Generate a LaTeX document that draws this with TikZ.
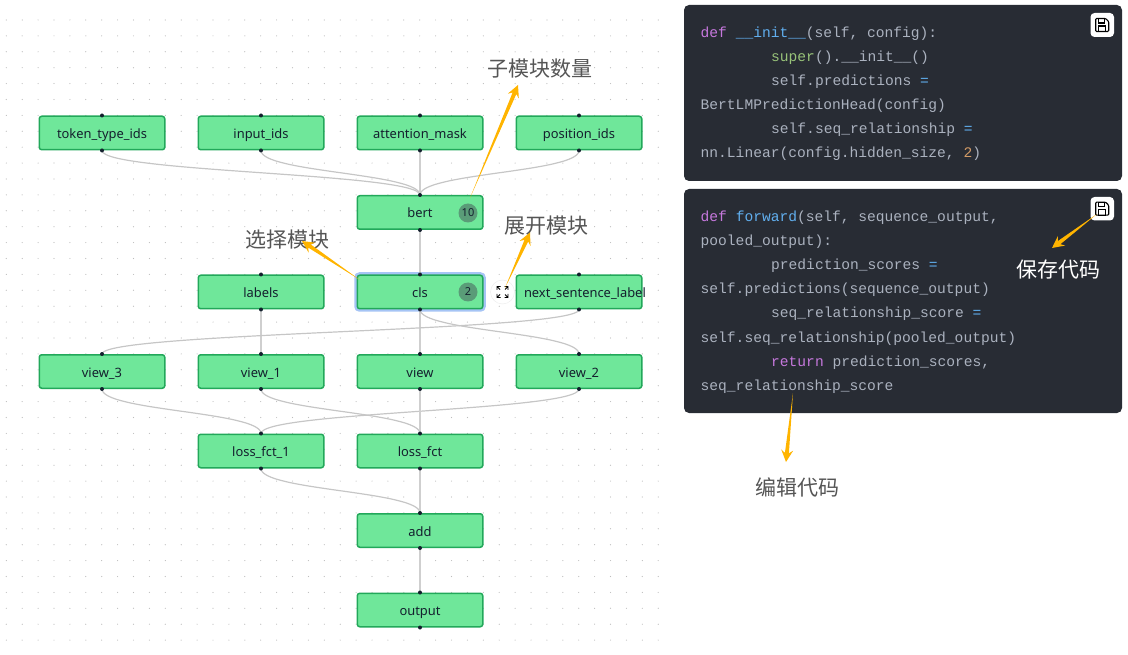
\documentclass[tikz,border=0pt]{standalone}
\usepackage{fontspec}
\setmainfont{Noto Sans}
\setmonofont{Liberation Mono}
\newfontfamily\cjkfont{Noto Sans CJK SC}
\usetikzlibrary{calc}

\definecolor{blockfill}{HTML}{6FE79A}
\definecolor{blockline}{HTML}{22A85A}
\definecolor{blocktext}{HTML}{14202E}
\definecolor{edgegray}{HTML}{C6C6C6}
\definecolor{gridgray}{HTML}{BDBDBD}
\definecolor{haloblue}{HTML}{A6C4F5}
\definecolor{badgegreen}{HTML}{5A9C78}
\definecolor{arrowyellow}{HTML}{FFB400}
\definecolor{notegray}{HTML}{555555}
\definecolor{codebg}{HTML}{282C34}
\definecolor{codetext}{HTML}{ABB2BF}
\definecolor{codekw}{HTML}{C678DD}
\definecolor{codefn}{HTML}{61AFEF}
\definecolor{codebuilt}{HTML}{98C379}
\definecolor{codenum}{HTML}{D19A66}

\newcommand{\kw}[1]{\textcolor{codekw}{#1}}
\newcommand{\fn}[1]{\textcolor{codefn}{#1}}
\newcommand{\yarrow}[2]{%
  \coordinate (hd) at ($(#2)!12pt!(#1)$);
  \coordinate (nk) at ($(#2)!9pt!(#1)$);
  \fill[arrowyellow] (#1) -- ($(nk)!2pt!90:(#2)$) -- ($(hd)!6pt!90:(#2)$) -- (#2)
    -- ($(hd)!6pt!-90:(#2)$) -- ($(nk)!2pt!-90:(#2)$) -- cycle;}

\tikzset{
  block/.style={draw=blockline,fill=blockfill,line width=1.5pt,rounded corners=2.5pt,
    minimum width=125.5pt,minimum height=33.5pt,inner sep=0pt,text=blocktext,
    text height=12pt,text depth=1pt,font=\fontsize{12.9}{15}\selectfont},
  selected/.style={block,preaction={draw=haloblue,line width=6pt}},
  badge/.style={circle,fill=badgegreen,minimum size=19pt,inner sep=0pt,text=blocktext,
    font=\fontsize{11}{13}\selectfont},
  edgeline/.style={draw=edgegray,line width=1.2pt},
  straightline/.style={draw=edgegray!85,line width=1.7pt},
  curved/.style={out=-90,in=90,distance=22pt},
  note/.style={text=notegray,font=\cjkfont\fontsize{21}{24}\selectfont},
  codeline/.style={anchor=base west,inner sep=0pt,text=codetext,
    font=\ttfamily\fontsize{14.6}{24}\selectfont},
  codebox/.style={fill=codebg,rounded corners=5pt},
  savebtn/.style={fill=white,rounded corners=4pt},
  saveicon/.pic={
    \draw[black,line width=1.1pt,rounded corners=1pt] (-6.5,-6.5) -- (3.5,-6.5) -- (6.5,-3.5)
      -- (6.5,6.5) -- (-6.5,6.5) -- cycle;
    \draw[black,line width=1.1pt] (-3.5,-6.5) rectangle (2.5,-2);
    \draw[black,line width=1.1pt] (-3.5,6.5) rectangle (3.5,1);
  },
}

\begin{document}
\begin{tikzpicture}[x=1pt,y=-1pt]
  \useasboundingbox (0,0) rectangle (1128,655);
  % dotted background
  \foreach \i in {0,...,41}
    \foreach \j in {0,...,39}
      \fill[gridgray] ({6.3+15.9*\i},{20+15.9*\j}) circle(0.6);

  % blocks
  \node[block] (token_type_ids) at (102,133) {token\_type\_ids};
  \node[block] (input_ids) at (261,133) {input\_ids};
  \node[block] (attention_mask) at (420,133) {attention\_mask};
  \node[block] (position_ids) at (579,133) {position\_ids};
  \node[block] (bert) at (420,212.5) {bert};
  \node[block] (labels) at (261,292) {labels};
  \node[selected] (cls) at (420,292) {cls};
  \node[block] (next_sentence_label) at (579,292) {\makebox[125pt][l]{\hspace{7.5pt}next\_sentence\_label}};
  \node[block] (view_3) at (102,371.5) {view\_3};
  \node[block] (view_1) at (261,371.5) {view\_1};
  \node[block] (view) at (420,371.5) {view};
  \node[block] (view_2) at (579,371.5) {view\_2};
  \node[block] (loss_fct_1) at (261,451) {loss\_fct\_1};
  \node[block] (loss_fct) at (420,451) {loss\_fct};
  \node[block] (add) at (420,530.5) {add};
  \node[block] (output) at (420,610) {output};

  \node[badge] (bert_count) at (468,213) {10};
  \node[badge] (cls_count) at (468,292) {2};

  % edges
  \draw[edgeline] (token_type_ids.south) to[curved] (bert.north);
  \draw[edgeline] (input_ids.south) to[curved] (bert.north);
  \draw[straightline] (attention_mask.south) -- (bert.north);
  \draw[edgeline] (position_ids.south) to[curved] (bert.north);
  \draw[straightline] (bert.south) -- (cls.north);
  \draw[straightline] (labels.south) -- (view_1.north);
  \draw[straightline] (cls.south) -- (view.north);
  \draw[edgeline] (cls.south) to[curved] (view_2.north);
  \draw[edgeline] (next_sentence_label.south) to[curved] (view_3.north);
  \draw[edgeline] (view_3.south) to[curved] (loss_fct_1.north);
  \draw[edgeline] (view_2.south) to[curved] (loss_fct_1.north);
  \draw[edgeline] (view_1.south) to[curved] (loss_fct.north);
  \draw[straightline] (view.south) -- (loss_fct.north);
  \draw[edgeline] (loss_fct_1.south) to[curved] (add.north);
  \draw[straightline] (loss_fct.south) -- (add.north);
  \draw[straightline] (add.south) -- (output.north);

  % handles
  \foreach \n in {token_type_ids,input_ids,attention_mask,position_ids,bert,labels,cls,
      next_sentence_label,view_3,view_1,view,view_2,loss_fct_1,loss_fct,add,output} {
    \fill[blocktext] (\n.north) circle(2);
    \fill[blocktext] (\n.south) circle(2);
  }

  % expand button
  \node[circle,draw=black!8,fill=white,minimum size=24pt,inner sep=0pt] (expand) at (502.5,292) {};
  \foreach \sx/\sy in {1/1,1/-1,-1/1,-1/-1}
    \draw[black,line width=0.9pt] ($(expand)+({\sx*5.5},{\sy*2})$) -- ($(expand)+({\sx*5.5},{\sy*5.5})$)
      -- ($(expand)+({\sx*2},{\sy*5.5})$)
      ($(expand)+({\sx*5.5},{\sy*5.5})$) -- ($(expand)+({\sx*2.5},{\sy*2.5})$);

  % code panels
  \fill[codebox] (684,5) rectangle (1122,181);
  \fill[codebox] (684,189) rectangle (1122,413);
  \node[codeline] (init_a) at (700.5,38) {\kw{def} \fn{\_\_init\_\_}(self, config):};
  \node[codeline] (init_b) at (771,62) {\textcolor{codebuilt}{super}().\_\_init\_\_()};
  \node[codeline] (init_c) at (771,86) {self.predictions \fn{=}};
  \node[codeline] (init_d) at (700.5,110) {BertLMPredictionHead(config)};
  \node[codeline] (init_e) at (771,134) {self.seq\_relationship \fn{=}};
  \node[codeline] (init_f) at (700.5,158) {nn.Linear(config.hidden\_size, \textcolor{codenum}{2})};
  \node[codeline] (fwd_a) at (700.5,222) {\kw{def} \fn{forward}(self, sequence\_output,};
  \node[codeline] (fwd_b) at (700.5,246) {pooled\_output):};
  \node[codeline] (fwd_c) at (771,270) {prediction\_scores \fn{=}};
  \node[codeline] (fwd_d) at (700.5,294) {self.predictions(sequence\_output)};
  \node[codeline] (fwd_e) at (771,318) {seq\_relationship\_score \fn{=}};
  \node[codeline] (fwd_f) at (700.5,342) {self.seq\_relationship(pooled\_output)};
  \node[codeline] (fwd_g) at (771,366) {\kw{return} prediction\_scores,};
  \node[codeline] (fwd_h) at (700.5,390) {seq\_relationship\_score};

  \fill[savebtn] (1090.5,13) rectangle (1114,37);
  \pic at (1102.2,25) {saveicon};
  \fill[savebtn] (1090.5,197) rectangle (1114,220.5);
  \pic at (1102.2,208.7) {saveicon};

  % notes
  \node[note] (count_note) at (540,68.7) {子模块数量};
  \node[note] (select_note) at (287,239.7) {选择模块};
  \node[note] (expand_note) at (546.5,225.7) {展开模块};
  \node[note,text=white] (save_note) at (1058.5,269.7) {保存代码};
  \node[note] (edit_note) at (797.5,487.7) {编辑代码};

  \coordinate (count_tail) at (470,198);
  \coordinate (count_tip) at (518,85);
  \coordinate (select_tail) at (360,280);
  \coordinate (select_tip) at (302,241);
  \coordinate (expand_tail) at (505,288);
  \coordinate (expand_tip) at (530,232.5);
  \coordinate (save_tail) at (1097,214);
  \coordinate (save_tip) at (1052,248);
  \coordinate (edit_tail) at (793,393);
  \coordinate (edit_tip) at (786,462);
  \yarrow{count_tail}{count_tip}
  \yarrow{select_tail}{select_tip}
  \yarrow{expand_tail}{expand_tip}
  \yarrow{save_tail}{save_tip}
  \yarrow{edit_tail}{edit_tip}
\end{tikzpicture}
\end{document}
